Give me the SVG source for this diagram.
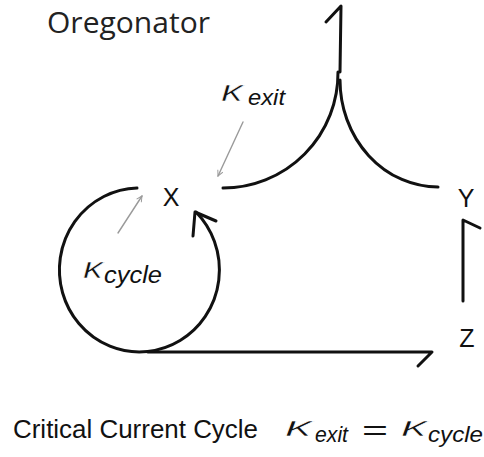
<svg xmlns="http://www.w3.org/2000/svg" width="484" height="457" viewBox="0 0 484 457">
<style>
.edge{fill:none;stroke:#111;stroke-width:3;stroke-linecap:round;stroke-linejoin:round}
.thin{fill:none;stroke:#9a9a9a;stroke-width:1.4;stroke-linecap:round}
.node{font-family:"Liberation Sans",Arial,sans-serif;font-size:25px;fill:#111;text-anchor:middle}
.k{font-family:"Liberation Sans",Arial,sans-serif;font-style:italic;fill:#111}
.kap{font-family:"Liberation Sans",Arial,sans-serif;font-style:italic;fill:#111;stroke:#ffffff;stroke-width:0.6}
.title{font-family:"Open Sans","Liberation Sans",sans-serif;font-size:29px;fill:#222}
.cap{font-family:"Liberation Sans",Arial,sans-serif;font-size:25px;fill:#111}
</style>
<defs>
<marker id="ga" viewBox="0 0 10 10" refX="9" refY="5" markerWidth="7" markerHeight="7" orient="auto" markerUnits="userSpaceOnUse">
<path d="M1,1 L9,5 L1,9" fill="none" stroke="#9a9a9a" stroke-width="1.4"/>
</marker>
</defs>
<rect width="484" height="457" fill="#ffffff"/>
<g id="title"><text class="title" x="47" y="33" textLength="163" lengthAdjust="spacingAndGlyphs">Oregonator</text></g>
<g id="connectors">
<path class="edge" d="M340,72 L341,6 L326,22"/>
<path class="edge" d="M338,72 A115,115 0 0 1 223,188"/>
<path class="edge" d="M340,80 A98,107 0 0 0 438,187"/>
<path class="edge" d="M463,301 L463,220 L480,228"/>
<path class="edge" d="M148,352 L432,352 L418,366"/>
<path class="edge" d="M137,188 A80,82 0 1 0 196,212"/>
<path class="edge" d="M193,236 L195,212 L216,221"/>
<line class="thin" x1="243" y1="122" x2="218" y2="176" marker-end="url(#ga)"/>
<line class="thin" x1="118" y1="233" x2="142" y2="196" marker-end="url(#ga)"/>
</g>
<g id="node-X"><text class="node" x="171" y="206">X</text></g>
<g id="node-Y"><text class="node" x="466" y="207">Y</text></g>
<g id="node-Z"><text class="node" x="467" y="347">Z</text></g>
<g id="label-kexit">
<text class="kap" x="221" y="101" font-size="29" textLength="22" lengthAdjust="spacingAndGlyphs">κ</text>
<text class="k" x="248" y="105" font-size="22" textLength="37" lengthAdjust="spacingAndGlyphs">exit</text>
</g>
<g id="label-kcycle">
<text class="kap" x="83" y="278" font-size="30" textLength="20" lengthAdjust="spacingAndGlyphs">κ</text>
<text class="k" x="104" y="283" font-size="23" textLength="58" lengthAdjust="spacingAndGlyphs">cycle</text>
</g>
<g id="caption">
<text class="cap" x="13" y="438" textLength="245" lengthAdjust="spacingAndGlyphs">Critical Current Cycle</text>
<text class="kap" x="285" y="436" font-size="28" textLength="27" lengthAdjust="spacingAndGlyphs">κ</text>
<text class="k" x="315" y="442" font-size="22" textLength="33" lengthAdjust="spacingAndGlyphs">exit</text>
<text x="362" y="440" font-family="Liberation Sans,Arial,sans-serif" font-size="28" fill="#111" textLength="26" lengthAdjust="spacingAndGlyphs">=</text>
<text class="kap" x="401" y="436" font-size="28" textLength="26" lengthAdjust="spacingAndGlyphs">κ</text>
<text class="k" x="428" y="442" font-size="22" textLength="55" lengthAdjust="spacingAndGlyphs">cycle</text>
</g>
</svg>
